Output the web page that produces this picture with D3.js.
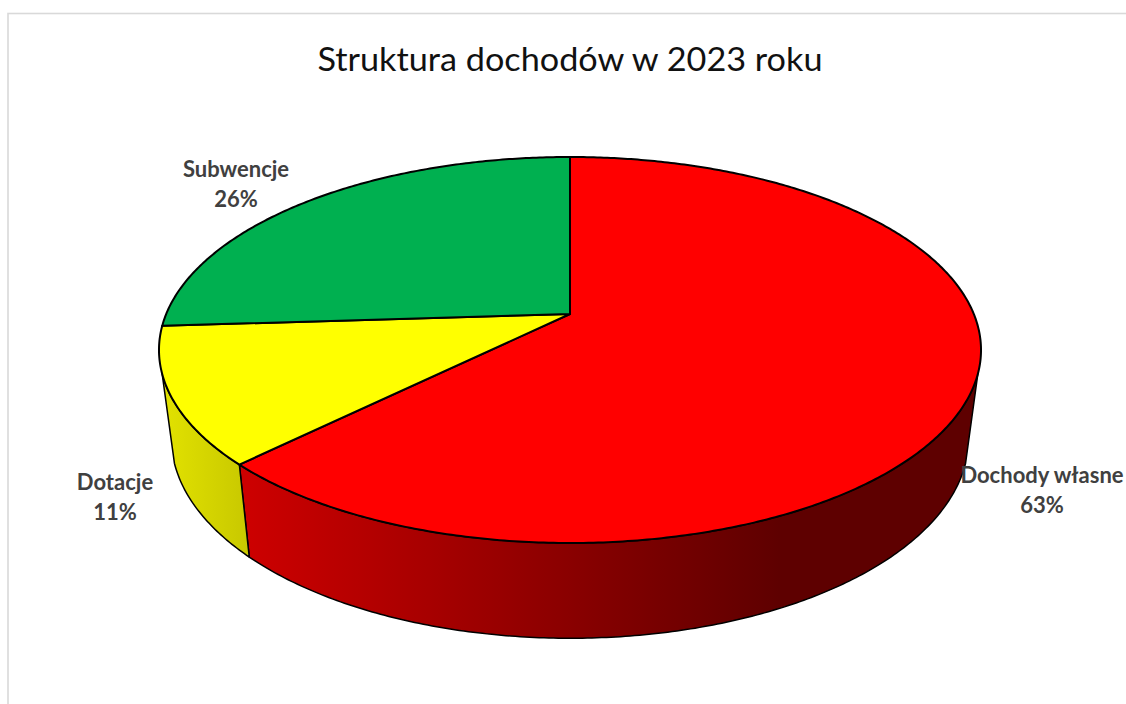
<!DOCTYPE html>
<html lang="pl">
<head>
<meta charset="utf-8">
<script src="https://cdn.jsdelivr.net/npm/d3@7/dist/d3.min.js"></script>
<style>
html,body{margin:0;padding:0;background:#fff;overflow:hidden}
svg{display:block}
text{font-family:Lato,"Open Sans",sans-serif}
</style>
</head>
<body>
<svg id="c" width="1126" height="704"></svg>
<script>
const titleText = "Struktura dochodów w 2023 roku";
const categories = ["Dochody własne", "Dotacje", "Subwencje"];
const values = [62.6, 11.4, 26.0];
const topColors = ["#ff0000", "#ffff00", "#00b050"];
const sideColorsFrom = ["#cc0000", "#e2e200", "#00a040"];
const sideColorsTo = ["#5e0000", "#c8c800", "#00a040"];
const labelCenters = [[1042, 483], [115, 490], [236, 177]];

const W = 1126, H = 704;
const svg = d3.select("#c");
const defs = svg.append("defs");

svg.append("rect").attr("x", 8).attr("y", 13.5).attr("width", W + 20).attr("height", H + 20)
  .attr("fill", "#fff").attr("stroke", "#d9d9d9").attr("stroke-width", 1.6);

// perspective disc: theta clockwise from far point
const cx = 570;
const topDisc = {cy: 314, A: 403.8, B: 186.3, p: 0.1865};
const botDisc = {cy: 401, A: 391.7, B: 193, p: 0.1865};
const project = (d, t) => {
  const w = 1 + d.p * Math.cos(t);
  return [cx + d.A * Math.sin(t) / w, d.cy - d.B * Math.cos(t) / w];
};
const line = d3.line();
const samples = (a, b) => {
  const n = Math.max(2, Math.ceil(Math.abs(b - a) / 0.01));
  return d3.range(n + 1).map(i => a + (b - a) * i / n);
};

const arcs = d3.pie().sort(null).value(d => d).startAngle(0).endAngle(2 * Math.PI)(values);
const visA = 107.7 * Math.PI / 180, visB = 252.3 * Math.PI / 180;

// side walls
const sideG = svg.append("g");
arcs.forEach((a, i) => {
  const s = Math.max(a.startAngle, visA), e = Math.min(a.endAngle, visB);
  if (e <= s) return;
  const upper = samples(s, e).map(t => project(topDisc, t));
  const lower = samples(e, s).map(t => project(botDisc, t));
  const pts = upper.concat(lower);
  const id = "side" + i;
  const xs = d3.extent(pts, q => q[0]);
  const g = defs.append("linearGradient").attr("id", id).attr("gradientUnits", "userSpaceOnUse")
    .attr("x1", i === 0 ? 250 : xs[0]).attr("x2", i === 0 ? 780 : xs[1]).attr("y1", 0).attr("y2", 0);
  g.append("stop").attr("offset", 0).attr("stop-color", sideColorsFrom[i]);
  g.append("stop").attr("offset", 1).attr("stop-color", sideColorsTo[i]);
  sideG.append("path").attr("d", line(pts) + "Z").attr("fill", `url(#${id})`)
    .attr("stroke", "#000").attr("stroke-width", 1.5).attr("stroke-linejoin", "round");
});

// top slices
const topG = svg.append("g");
arcs.forEach((a, i) => {
  const pts = [[cx, topDisc.cy]].concat(samples(a.startAngle, a.endAngle).map(t => project(topDisc, t)));
  topG.append("path").attr("d", line(pts) + "Z").attr("fill", topColors[i])
    .attr("stroke", "#000").attr("stroke-width", 2).attr("stroke-linejoin", "round");
});

// title
svg.append("text").attr("x", 570).attr("y", 71).attr("text-anchor", "middle")
  .attr("font-size", 33).attr("fill", "#111").attr("textLength", 505).attr("lengthAdjust", "spacingAndGlyphs").text(titleText);

// labels
const fmt = d3.format(".0f");
categories.forEach((c, i) => {
  const [x, y] = labelCenters[i];
  const t = svg.append("text").attr("text-anchor", "middle").attr("font-size", 22)
    .attr("font-weight", 700).attr("fill", "#404040");
  t.append("tspan").attr("x", x).attr("y", y).text(c);
  t.append("tspan").attr("x", x).attr("y", y + 30).text(fmt(values[i]) + "%");
});
</script>
</body>
</html>
